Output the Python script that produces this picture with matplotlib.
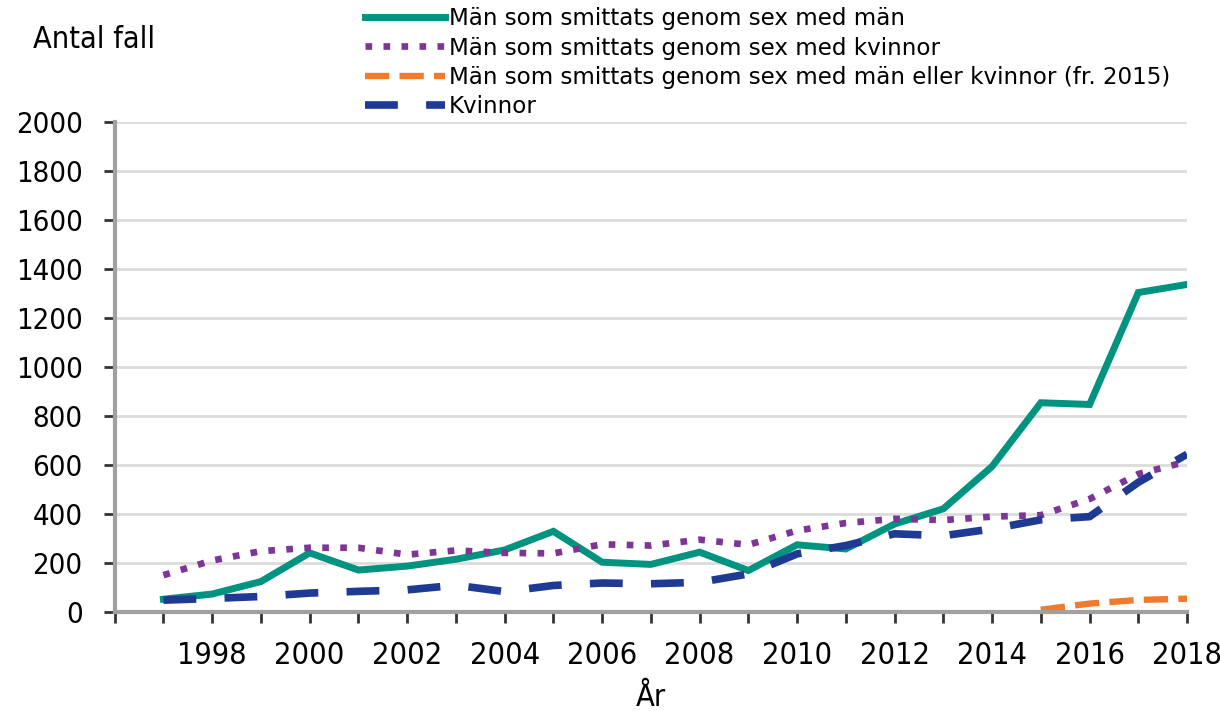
import matplotlib
matplotlib.use("Agg")
import matplotlib.pyplot as plt

years = list(range(1997, 2019))
msm = [53, 74, 125, 242, 172, 188, 216, 254, 330, 204, 195, 245, 170, 275, 258, 360, 422, 595, 855, 848, 1305, 1338]
msw = [151, 211, 249, 263, 263, 235, 252, 242, 240, 277, 272, 296, 275, 333, 364, 381, 376, 390, 396, 462, 564, 615]
women = [49, 56, 64, 78, 85, 91, 110, 84, 109, 119, 116, 122, 156, 238, 272, 320, 312, 340, 377, 390, 530, 645]
years_mix = [2015, 2016, 2017, 2018]
msm_or_w = [10, 35, 50, 55]

labels = ["Män som smittats genom sex med män",
          "Män som smittats genom sex med kvinnor",
          "Män som smittats genom sex med män eller kvinnor (fr. 2015)",
          "Kvinnor"]

plt.rcParams['font.family'] = ['DejaVu Sans']
plt.rcParams['font.stretch'] = 'condensed'

fig = plt.figure(figsize=(12.2, 7.11), dpi=100)
ax = fig.add_axes([0.094, 0.139, 0.879, 0.689])

l1, = ax.plot(years, msm, color='#00937f', lw=5, solid_joinstyle='miter')
l2, = ax.plot(years, msw, color='#7d3596', lw=4.8, linestyle=(0, (1, 1.7)))
l3, = ax.plot(years_mix, msm_or_w, color='#ef7b2c', lw=4.6, linestyle=(0, (3.8, 1.6)))
l4, = ax.plot(years, women, color='#1f3a93', lw=5.5, linestyle=(0, (4.3, 3.7)))

ax.set_xlim(1996, 2018)
ax.set_ylim(0, 2000)
ax.set_yticks(range(0, 2001, 200))
ax.set_xticks(range(1996, 2019))
ax.set_xticklabels([str(y) if (y % 2 == 0 and y >= 1998) else '' for y in range(1996, 2019)])
ax.tick_params(axis='y', labelsize=21, length=8, width=2, color='#333333', pad=15)
ax.tick_params(axis='x', labelsize=22, length=8, width=2, color='#333333', pad=13)
ax.grid(axis='y', color='#dcdcdc', lw=2)
ax.set_axisbelow(True)
for s in ['top', 'right']:
    ax.spines[s].set_visible(False)
for s in ['left', 'bottom']:
    ax.spines[s].set_color('#a0a0a0')
    ax.spines[s].set_linewidth(3)

ax.set_xlabel('År', fontsize=22, labelpad=9)
fig.text(0.027, 0.945, 'Antal fall', fontsize=22, va='center')

leg = fig.legend([l1, l2, l3, l4], labels, loc='upper left', bbox_to_anchor=(0.297, 0.993),
                 frameon=False, prop={'size': 16.6, 'stretch': 'normal'},
                 handlelength=3.5, handletextpad=0.15,
                 labelspacing=0.27, borderaxespad=0, borderpad=0.1)

fig.savefig('out.png', dpi=100)
